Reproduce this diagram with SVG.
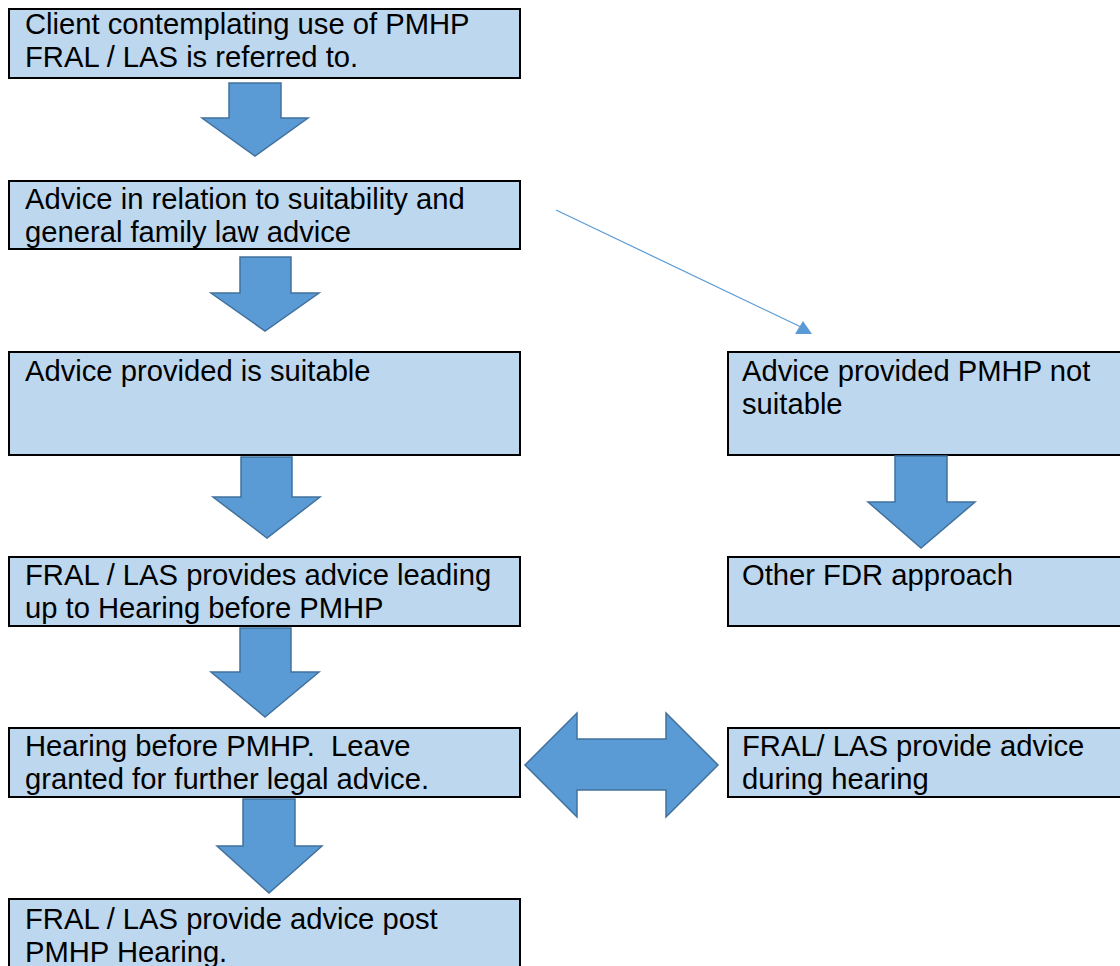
<svg xmlns="http://www.w3.org/2000/svg" width="1120" height="966" viewBox="0 0 1120 966">
<defs>
<style>
.box{fill:#BDD7EE;stroke:#000;stroke-width:2}
.t{font-family:"Liberation Sans",Arial,sans-serif;font-size:29.2px;fill:#000;white-space:pre}
.blk{fill:#5B9BD5;stroke:#41719C;stroke-width:1.5;stroke-linejoin:miter}
.thin{stroke:#5B9BD5;stroke-width:1.2;fill:none}
</style>
</defs>
<rect width="1120" height="966" fill="#fff"/>
<g id="n1"><rect class="box" x="9" y="9" width="511" height="69"/>
<text class="t" x="25" y="34">Client contemplating use of PMHP</text>
<text class="t" x="25" y="67">FRAL / LAS is referred to.</text></g>
<g id="n2"><rect class="box" x="9" y="181" width="511" height="68"/>
<text class="t" x="25" y="209">Advice in relation to suitability and</text>
<text class="t" x="25" y="242">general family law advice</text></g>
<g id="n3"><rect class="box" x="9" y="352" width="511" height="103"/>
<text class="t" x="25" y="381">Advice provided is suitable</text></g>
<g id="n4"><rect class="box" x="728" y="352" width="400" height="103"/>
<text class="t" x="742" y="381">Advice provided PMHP not</text>
<text class="t" x="742" y="414">suitable</text></g>
<g id="n5"><rect class="box" x="9" y="557" width="511" height="69"/>
<text class="t" x="25" y="585">FRAL / LAS provides advice leading</text>
<text class="t" x="25" y="618">up to Hearing before PMHP</text></g>
<g id="n6"><rect class="box" x="728" y="557" width="400" height="69"/>
<text class="t" x="742" y="585">Other FDR approach</text></g>
<g id="n7"><rect class="box" x="9" y="728" width="511" height="69"/>
<text class="t" x="25" y="756" xml:space="preserve">Hearing before PMHP.  Leave</text>
<text class="t" x="25" y="789">granted for further legal advice.</text></g>
<g id="n8"><rect class="box" x="728" y="728" width="400" height="69"/>
<text class="t" x="742" y="756">FRAL/ LAS provide advice</text>
<text class="t" x="742" y="789">during hearing</text></g>
<g id="n9"><rect class="box" x="9" y="899" width="511" height="80"/>
<text class="t" x="25" y="929">FRAL / LAS provide advice post</text>
<text class="t" x="25" y="962">PMHP Hearing.</text></g>
<g id="connectors">
<polygon class="blk" points="229,83 281,83 281,118 308,118 255,156 202,118 229,118"/>
<polygon class="blk" points="240,257 291,257 291,293 319,293 265,331 211,293 240,293"/>
<polygon class="blk" points="241,457 292,457 292,497 320,497 267,538 213,497 241,497"/>
<polygon class="blk" points="240,628 291,628 291,672 319,672 265,717 211,672 240,672"/>
<polygon class="blk" points="243,799 295,799 295,846 322,846 269,893 217,846 243,846"/>
<polygon class="blk" points="895,456 947,456 947,502 975,502 921,548 868,502 895,502"/>
<polygon class="blk" points="525,765 577,713 577,739 666,739 666,713 718,765 666,817 666,790 577,790 577,817"/>
<line class="thin" x1="556" y1="210" x2="801" y2="327"/>
<polygon fill="#5B9BD5" points="795,334 812,334 803,321"/>
</g>
</svg>
